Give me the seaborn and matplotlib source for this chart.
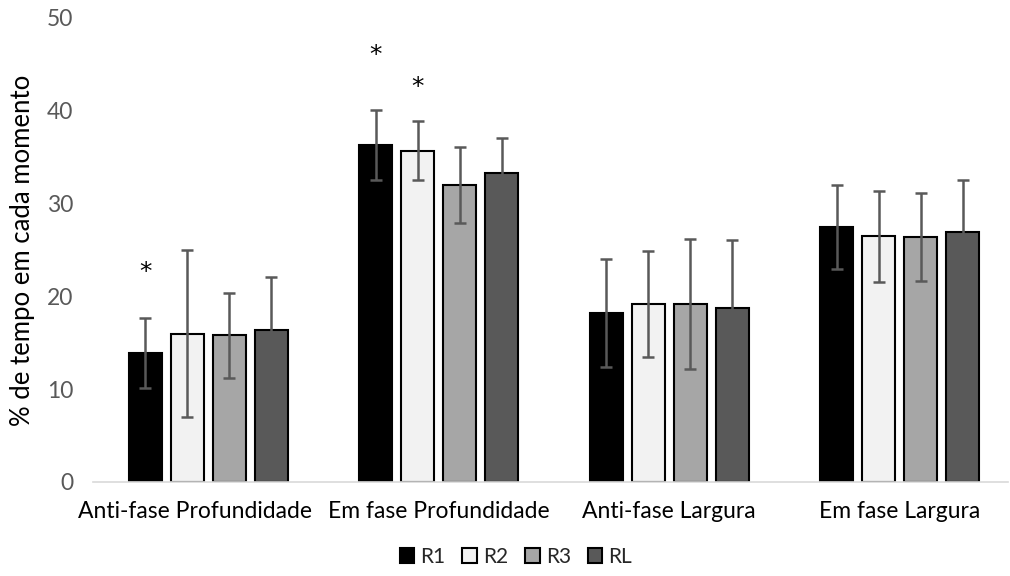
import matplotlib
matplotlib.use("Agg")
import matplotlib.pyplot as plt
import matplotlib.transforms as mtransforms
import seaborn as sns
import pandas as pd

# Movement categories and conditions
categories = ["Anti-fase Profundidade", "Em fase Profundidade", "Anti-fase Largura", "Em fase Largura"]
conditions = ["R1", "R2", "R3", "RL"]

# Mean % of time per condition (one list per condition, ordered as categories)
r1_mean = [13.9, 36.3, 18.2, 27.5]
r2_mean = [16.0, 35.7, 19.2, 26.5]
r3_mean = [15.8, 32.0, 19.2, 26.4]
rl_mean = [16.4, 33.3, 18.7, 26.9]

# Standard deviations
r1_sd = [3.8, 3.8, 5.8, 4.5]
r2_sd = [9.0, 3.2, 5.7, 4.9]
r3_sd = [4.6, 4.1, 7.0, 4.75]
rl_sd = [5.7, 3.8, 7.4, 5.6]

# Significance markers: (category index, condition index, y position)
stars = [(0, 0, 22.6), (1, 0, 46.0), (1, 1, 42.6)]

y_ticks = [0, 10, 20, 30, 40, 50]

means = [r1_mean, r2_mean, r3_mean, rl_mean]
sds = [r1_sd, r2_sd, r3_sd, rl_sd]
rows = []
for cond, m_list, s_list in zip(conditions, means, sds):
    for cat, m, s in zip(categories, m_list, s_list):
        rows.append({"categoria": cat, "condicao": cond, "valor": m, "sd": s})
df = pd.DataFrame(rows)

sns.set_theme(style="white")
plt.rcParams["font.family"] = ["Lato", "DejaVu Sans"]

palette = {"R1": "#000000", "R2": "#f2f2f2", "R3": "#a6a6a6", "RL": "#595959"}

fig = plt.figure(figsize=(10.10, 5.76), dpi=100)
ax = fig.add_axes([93 / 1010, (576 - 482) / 576, 915 / 1010, 464 / 576])

sns.barplot(data=df, x="categoria", y="valor", hue="condicao", order=categories,
            hue_order=conditions, palette=palette, width=0.73, gap=0.21,
            edgecolor="black", linewidth=1.5, errorbar=None, legend=True, ax=ax)

# Error bars and significance markers, placed on each bar's centre
for ci, cond in enumerate(conditions):
    container = ax.containers[ci]
    for gi, patch in enumerate(container.patches):
        xc = patch.get_x() + patch.get_width() / 2
        ax.errorbar(xc, means[ci][gi], yerr=sds[ci][gi], fmt="none",
                    ecolor="#595959", elinewidth=1.8, capsize=4.5, capthick=1.8, zorder=3)
        for g, c, ys in stars:
            if g == gi and c == ci:
                ax.text(xc, ys, "*", ha="center", va="center", fontsize=18,
                        color="black", family=["DejaVu Sans"])

ax.set_xlim(-0.5, -0.5 + 915 / 230.5)
ax.set_ylim(0, 50)
ax.set_yticks(y_ticks)
ax.set_xlabel("")
ax.set_ylabel("% de tempo em cada momento", fontsize=18.5, color="black", labelpad=9)
ax.tick_params(axis="y", labelsize=16.5, labelcolor="#595959", length=0, pad=14)
ax.tick_params(axis="x", labelsize=16.5, labelcolor="black", length=0, pad=14)

# First category label sits a little to the left
first = ax.get_xticklabels()[0]
first.set_transform(first.get_transform() + mtransforms.ScaledTranslation(-13 / 100, 0, fig.dpi_scale_trans))

for side in ["left", "right", "top"]:
    ax.spines[side].set_visible(False)
ax.spines["bottom"].set_color("#d9d9d9")
ax.spines["bottom"].set_linewidth(1.2)

handles, labels = ax.get_legend_handles_labels()
ax.legend_.remove()
fig.legend(handles, labels, loc="center", bbox_to_anchor=(516 / 1010, 1 - 557 / 576), ncol=4,
           frameon=False, fontsize=15, handlelength=0.7, handleheight=0.7,
           handletextpad=0.3, columnspacing=0.8, borderaxespad=0)

fig.savefig("out.png", dpi=100)
